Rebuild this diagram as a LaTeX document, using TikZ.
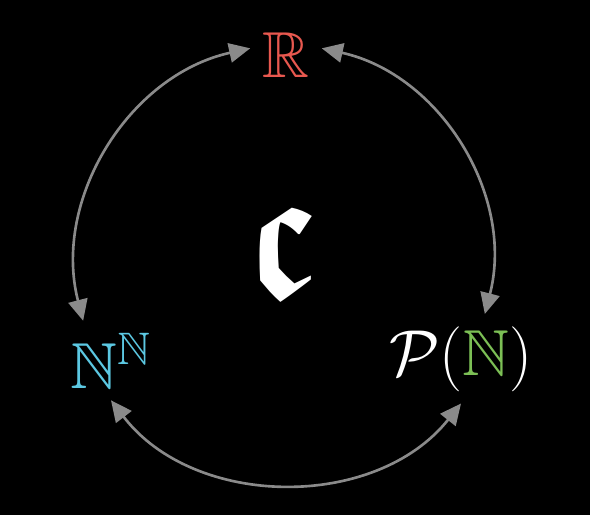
\RequirePackage{fix-cm}
\documentclass[tikz,border=0pt]{standalone}
\usepackage{amsmath,amssymb,xcolor,tikz}
\usetikzlibrary{arrows.meta}
\definecolor{red}{HTML}{E8584F}
\definecolor{cyan}{HTML}{5CC8E2}
\definecolor{green}{HTML}{7CBF55}
\definecolor{gray}{HTML}{8A8A8A}

\begin{document}
\begin{tikzpicture}[x=.02cm,y=.02cm,
  big/.style={inner sep=6.8pt,font=\fontsize{37}{40}\selectfont},
  link/.style={gray,line width=1.5pt,{Triangle[length=12pt,width=11pt]}-{Triangle[length=12pt,width=11pt]}}]
\fill[black] (0,0) rectangle (590,515);
\node[big,anchor=base,red] (reals) at (286,438){$\mathbb{R}$};
\node[big,anchor=base,cyan] (baire) at (111,127){$\mathbb{N}^{\mathbb{N}}$};
\node[big,anchor=base,white] (power) at (461,140){$\mathcal{P}(\textcolor{green}{\mathbb{N}})$};
\node[white,font=\fontsize{96}{100}\selectfont] (cont) at (282,262){\scalebox{.92}[1.12]{$\boldsymbol{\mathfrak{c}}$}};
\draw[link] (reals.170) to[bend right=46] (baire.125);
\draw[link] (reals.10) to[bend left=46] (power.62);
\draw[link] (baire.south) to[bend right=52] (power.south);
\end{tikzpicture}
\end{document}
